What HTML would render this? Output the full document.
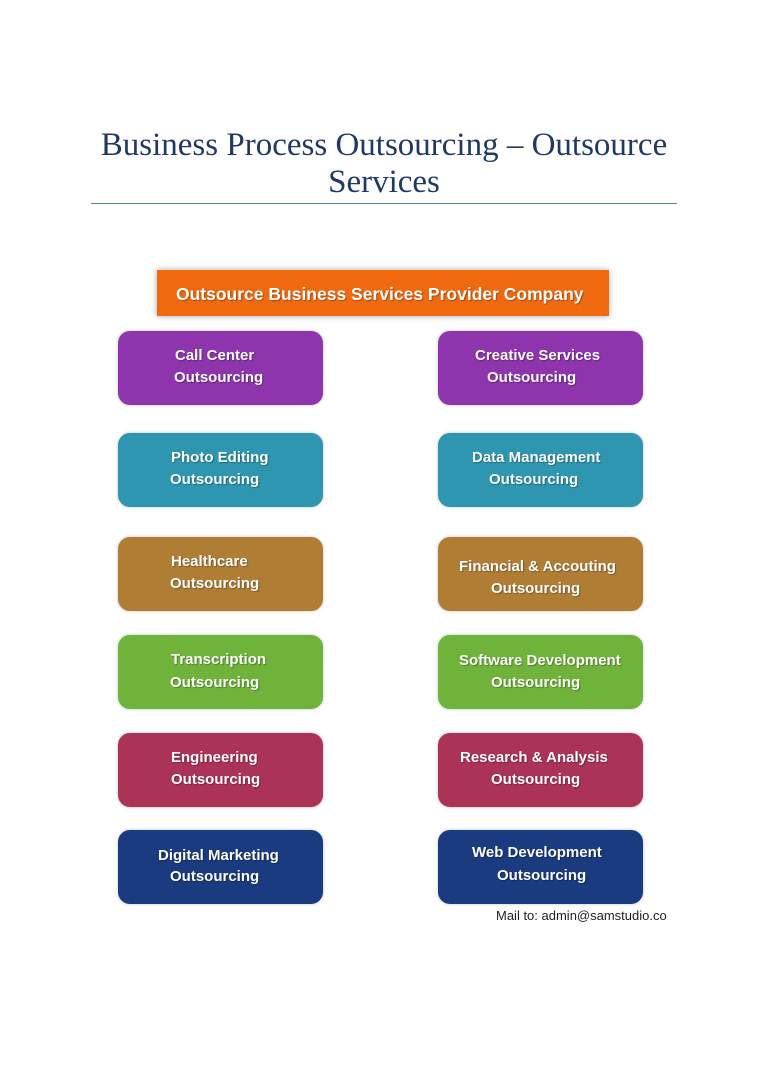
<!DOCTYPE html>
<html><head><meta charset="utf-8"><style>
body{margin:0;background:#fff;}
#p{position:relative;width:768px;height:1087px;overflow:hidden;background:#fff;font-family:"Liberation Sans",sans-serif;}
.t{position:absolute;left:0;width:768px;text-align:center;font-family:"Liberation Serif",serif;font-size:33px;color:#1f3864;line-height:36px;}
.b{position:absolute;width:205px;height:74px;border-radius:12px;box-shadow:0 0 3px rgba(0,0,0,.25);}
.l{position:absolute;color:#fff;font-weight:bold;font-size:15px;line-height:18px;white-space:nowrap;text-shadow:1px 1px 1px rgba(0,0,0,.3);}
</style></head><body><div id="p">
<div class="t" style="top:127px">Business Process Outsourcing – Outsource</div>
<div class="t" style="top:164px">Services</div>
<div style="position:absolute;left:91px;top:203px;width:586px;height:1px;background:#5b83b0"></div>
<div style="position:absolute;left:157px;top:270px;width:452px;height:46px;background:#f0690f;box-shadow:0 0 6px rgba(0,0,0,.35)"></div>
<div class="l" style="left:176px;top:284px;font-size:17.5px;line-height:20px">Outsource Business Services Provider Company</div>

<div class="b" style="left:118px;top:331px;background:#8e35ad"></div>
<div class="b" style="left:438px;top:331px;background:#8e35ad"></div>
<div class="b" style="left:118px;top:433px;background:#2e96b0"></div>
<div class="b" style="left:438px;top:433px;background:#2e96b0"></div>
<div class="b" style="left:118px;top:537px;background:#b07d35"></div>
<div class="b" style="left:438px;top:537px;background:#b07d35"></div>
<div class="b" style="left:118px;top:635px;background:#70b33a"></div>
<div class="b" style="left:438px;top:635px;background:#70b33a"></div>
<div class="b" style="left:118px;top:733px;background:#ac3358"></div>
<div class="b" style="left:438px;top:733px;background:#ac3358"></div>
<div class="b" style="left:118px;top:830px;background:#1a3b80"></div>
<div class="b" style="left:438px;top:830px;background:#1a3b80"></div>

<div class="l" style="left:175px;top:347px">Call Center</div>
<div class="l" style="left:174px;top:369px">Outsourcing</div>
<div class="l" style="left:475px;top:347px">Creative Services</div>
<div class="l" style="left:487px;top:369px">Outsourcing</div>

<div class="l" style="left:171px;top:449px">Photo Editing</div>
<div class="l" style="left:170px;top:471px">Outsourcing</div>
<div class="l" style="left:472px;top:449px">Data Management</div>
<div class="l" style="left:489px;top:471px">Outsourcing</div>

<div class="l" style="left:171px;top:553px">Healthcare</div>
<div class="l" style="left:170px;top:575px">Outsourcing</div>
<div class="l" style="left:459px;top:558px">Financial &amp; Accouting</div>
<div class="l" style="left:491px;top:580px">Outsourcing</div>

<div class="l" style="left:171px;top:651px">Transcription</div>
<div class="l" style="left:170px;top:674px">Outsourcing</div>
<div class="l" style="left:459px;top:652px">Software Development</div>
<div class="l" style="left:491px;top:674px">Outsourcing</div>

<div class="l" style="left:171px;top:749px">Engineering</div>
<div class="l" style="left:171px;top:771px">Outsourcing</div>
<div class="l" style="left:460px;top:749px">Research &amp; Analysis</div>
<div class="l" style="left:491px;top:771px">Outsourcing</div>

<div class="l" style="left:158px;top:847px">Digital Marketing</div>
<div class="l" style="left:170px;top:868px">Outsourcing</div>
<div class="l" style="left:472px;top:844px">Web Development</div>
<div class="l" style="left:497px;top:867px">Outsourcing</div>

<div style="position:absolute;left:496px;top:908px;font-size:13px;color:#222;white-space:nowrap">Mail to: admin@samstudio.co</div>
</div></body></html>
